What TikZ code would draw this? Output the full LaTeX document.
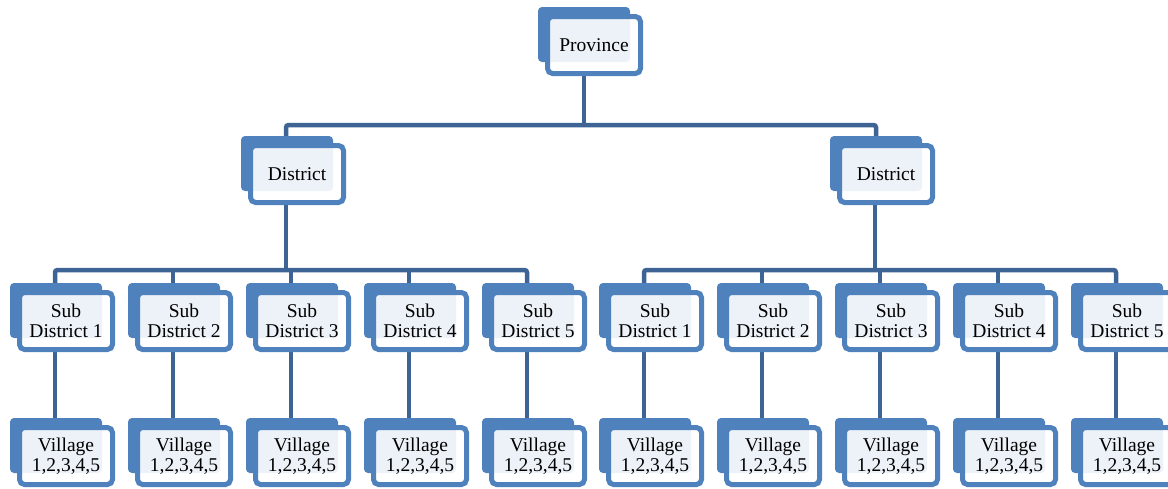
\documentclass[tikz,border=0pt]{standalone}
\usepackage{fontspec}
\setmainfont{Liberation Serif}
\usetikzlibrary{calc}
\definecolor{boxblue}{HTML}{4F81BD}
\definecolor{linkblue}{HTML}{3E6496}
\pgfdeclarelayer{links}
\pgfdeclarelayer{backs}
\pgfsetlayers{links,backs,main}
\tikzset{
  front/.style={draw=boxblue, line width=5pt, fill=white, fill opacity=0.9, text opacity=1,
    rounded corners=5pt, minimum width=93pt, minimum height=57pt, inner sep=0pt,
    align=center, font=\fontsize{19.5}{20}\selectfont},
  backbox/.style={fill=boxblue, rounded corners=4pt},
  link/.style={draw=linkblue, line width=4.5pt},
  bus/.style={link, rounded corners=2.5pt}
}
\newcommand\stackbox[3]{%
  \node[front] (#1) at (#2) {#3};
  \begin{pgfonlayer}{backs}
    \fill[backbox] ($(#1.center)+(-56,-38)$) rectangle ($(#1.center)+(36,17)$);
  \end{pgfonlayer}}
\begin{document}
\begin{tikzpicture}[x=1pt,y=-1pt]
\useasboundingbox (0,0) rectangle (1168,488);
\clip (0,0) rectangle (1168,488);
\coordinate (busA) at (0,125);
\coordinate (busB) at (0,270);
\stackbox{prov}{594,45}{Province}
\stackbox{dl}{297,174}{District}
\stackbox{dr}{886,174}{District}
\foreach \i/\x in {1/66,2/184,3/302,4/420,5/538}{
  \stackbox{sl\i}{\x,321}{Sub\\District \i}
  \stackbox{vl\i}{\x,456}{Village\\1,2,3,4,5}
}
\foreach \i/\x in {1/655,2/773,3/891,4/1009,5/1127}{
  \stackbox{sr\i}{\x,321}{Sub\\District \i}
  \stackbox{vr\i}{\x,456}{Village\\1,2,3,4,5}
}
\begin{pgfonlayer}{links}
  % province to districts
  \coordinate (pc) at ($(prov.south)+(-10,0)$);
  \draw[link] (pc) -- (pc |- busA);
  \draw[bus] ($(dl.north)+(-11,0)$) |- (pc |- busA) -| ($(dr.north)+(-10,0)$);
  % district to sub districts
  \foreach \d/\s in {dl/sl,dr/sr}{
    \coordinate (dc) at ($(\d.south)+(-11,0)$);
    \draw[link] (dc) -- (dc |- busB);
    \draw[bus] ($(\s1.north)+(-11,0)$) |- (dc |- busB) -| ($(\s5.north)+(-11,0)$);
    \foreach \k in {2,3,4}{
      \coordinate (sc) at ($(\s\k.north)+(-11,0)$);
      \draw[link] (sc) -- (sc |- busB);
    }
  }
  % sub districts to villages
  \foreach \k in {1,...,5}{
    \draw[link] ($(sl\k.south)+(-11,0)$) -- ($(vl\k.north)+(-11,0)$);
    \draw[link] ($(sr\k.south)+(-11,0)$) -- ($(vr\k.north)+(-11,0)$);
  }
\end{pgfonlayer}
\end{tikzpicture}
\end{document}
